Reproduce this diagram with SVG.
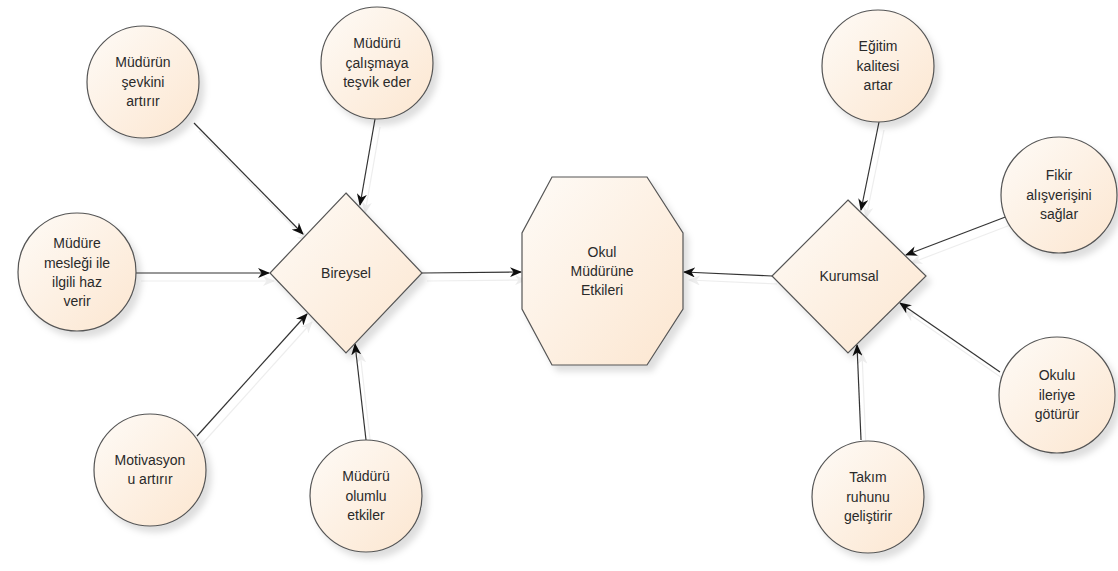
<svg xmlns="http://www.w3.org/2000/svg" width="1118" height="571" viewBox="0 0 1118 571">
<defs>
<linearGradient id="g" x1="0" y1="0" x2="1" y2="1">
<stop offset="0" stop-color="#fefbf7"/>
<stop offset="1" stop-color="#fce6d0"/>
</linearGradient>
<filter id="sh" x="-20%" y="-20%" width="150%" height="150%">
<feDropShadow dx="5" dy="6" stdDeviation="3" flood-color="#000" flood-opacity="0.13"/>
</filter>
<filter id="lsh" x="-20%" y="-20%" width="150%" height="150%">
<feDropShadow dx="5" dy="8" stdDeviation="0.6" flood-color="#000" flood-opacity="0.07"/>
</filter>
<marker id="ah" viewBox="0 0 12 10" refX="11" refY="5" markerWidth="12" markerHeight="10" markerUnits="userSpaceOnUse" orient="auto">
<path d="M0,0 L12,5 L0,10 L3.5,5 z" fill="#111"/>
</marker>
</defs>
<style>
.n{fill:url(#g);stroke:#555;stroke-width:1.2;filter:url(#sh)}
.c{stroke:#333;stroke-width:1.2;fill:none;marker-end:url(#ah)}
text{font-family:"Liberation Sans",Arial,sans-serif;font-size:14px;fill:#2a2a2a;text-anchor:middle}
</style>
<rect width="1118" height="571" fill="#fff"/>
<g id="connectors" filter="url(#lsh)">
<line class="c" x1="194" y1="123" x2="303" y2="234"/>
<line class="c" x1="375" y1="119" x2="360" y2="205"/>
<line class="c" x1="136" y1="273" x2="269" y2="273"/>
<line class="c" x1="197" y1="436" x2="307" y2="314"/>
<line class="c" x1="366" y1="440" x2="355" y2="344"/>
<line class="c" x1="422" y1="273" x2="521" y2="272"/>
<line class="c" x1="772" y1="276" x2="684" y2="272"/>
<line class="c" x1="879" y1="122" x2="861" y2="210"/>
<line class="c" x1="1008" y1="216" x2="906" y2="255"/>
<line class="c" x1="1000" y1="372" x2="900" y2="303"/>
<line class="c" x1="861" y1="440" x2="857" y2="345"/>
</g>
<g id="bireysel">
<polygon class="n" points="346,193 422,273 346,353 270,273"/>
<text x="346" y="278">Bireysel</text>
</g>
<g id="kurumsal">
<polygon class="n" points="848,200 926,276 848,353 772,276"/>
<text x="849" y="281">Kurumsal</text>
</g>
<g id="merkez">
<polygon class="n" points="552,177 647,177 683,233 683,309 647,365 552,365 522,309 522,233"/>
<text x="602" y="257">Okul</text>
<text x="602" y="276">Müdürüne</text>
<text x="602" y="295">Etkileri</text>
</g>
<g id="n1">
<circle class="n" cx="143" cy="82" r="56"/>
<text x="143" y="67">Müdürün</text>
<text x="143" y="87">şevkini</text>
<text x="143" y="106">artırır</text>
</g>
<g id="n2">
<circle class="n" cx="377" cy="63" r="56"/>
<text x="377" y="48">Müdürü</text>
<text x="377" y="68">çalışmaya</text>
<text x="377" y="87">teşvik eder</text>
</g>
<g id="n3">
<circle class="n" cx="77" cy="272" r="59"/>
<text x="77" y="248">Müdüre</text>
<text x="77" y="268">mesleği ile</text>
<text x="77" y="287">ilgili haz</text>
<text x="77" y="306">verir</text>
</g>
<g id="n4">
<circle class="n" cx="150" cy="470" r="56"/>
<text x="150" y="465">Motivasyon</text>
<text x="150" y="484">u artırır</text>
</g>
<g id="n5">
<circle class="n" cx="366" cy="496" r="56"/>
<text x="366" y="481">Müdürü</text>
<text x="366" y="501">olumlu</text>
<text x="366" y="520">etkiler</text>
</g>
<g id="n6">
<circle class="n" cx="878" cy="66" r="56"/>
<text x="878" y="51">Eğitim</text>
<text x="878" y="71">kalitesi</text>
<text x="878" y="90">artar</text>
</g>
<g id="n7">
<circle class="n" cx="1059" cy="195" r="58"/>
<text x="1059" y="180">Fikir</text>
<text x="1059" y="200">alışverişini</text>
<text x="1059" y="219">sağlar</text>
</g>
<g id="n8">
<circle class="n" cx="1057" cy="395" r="58"/>
<text x="1057" y="380">Okulu</text>
<text x="1057" y="400">ileriye</text>
<text x="1057" y="419">götürür</text>
</g>
<g id="n9">
<circle class="n" cx="868" cy="497" r="56"/>
<text x="868" y="482">Takım</text>
<text x="868" y="502">ruhunu</text>
<text x="868" y="521">geliştirir</text>
</g>
</svg>
